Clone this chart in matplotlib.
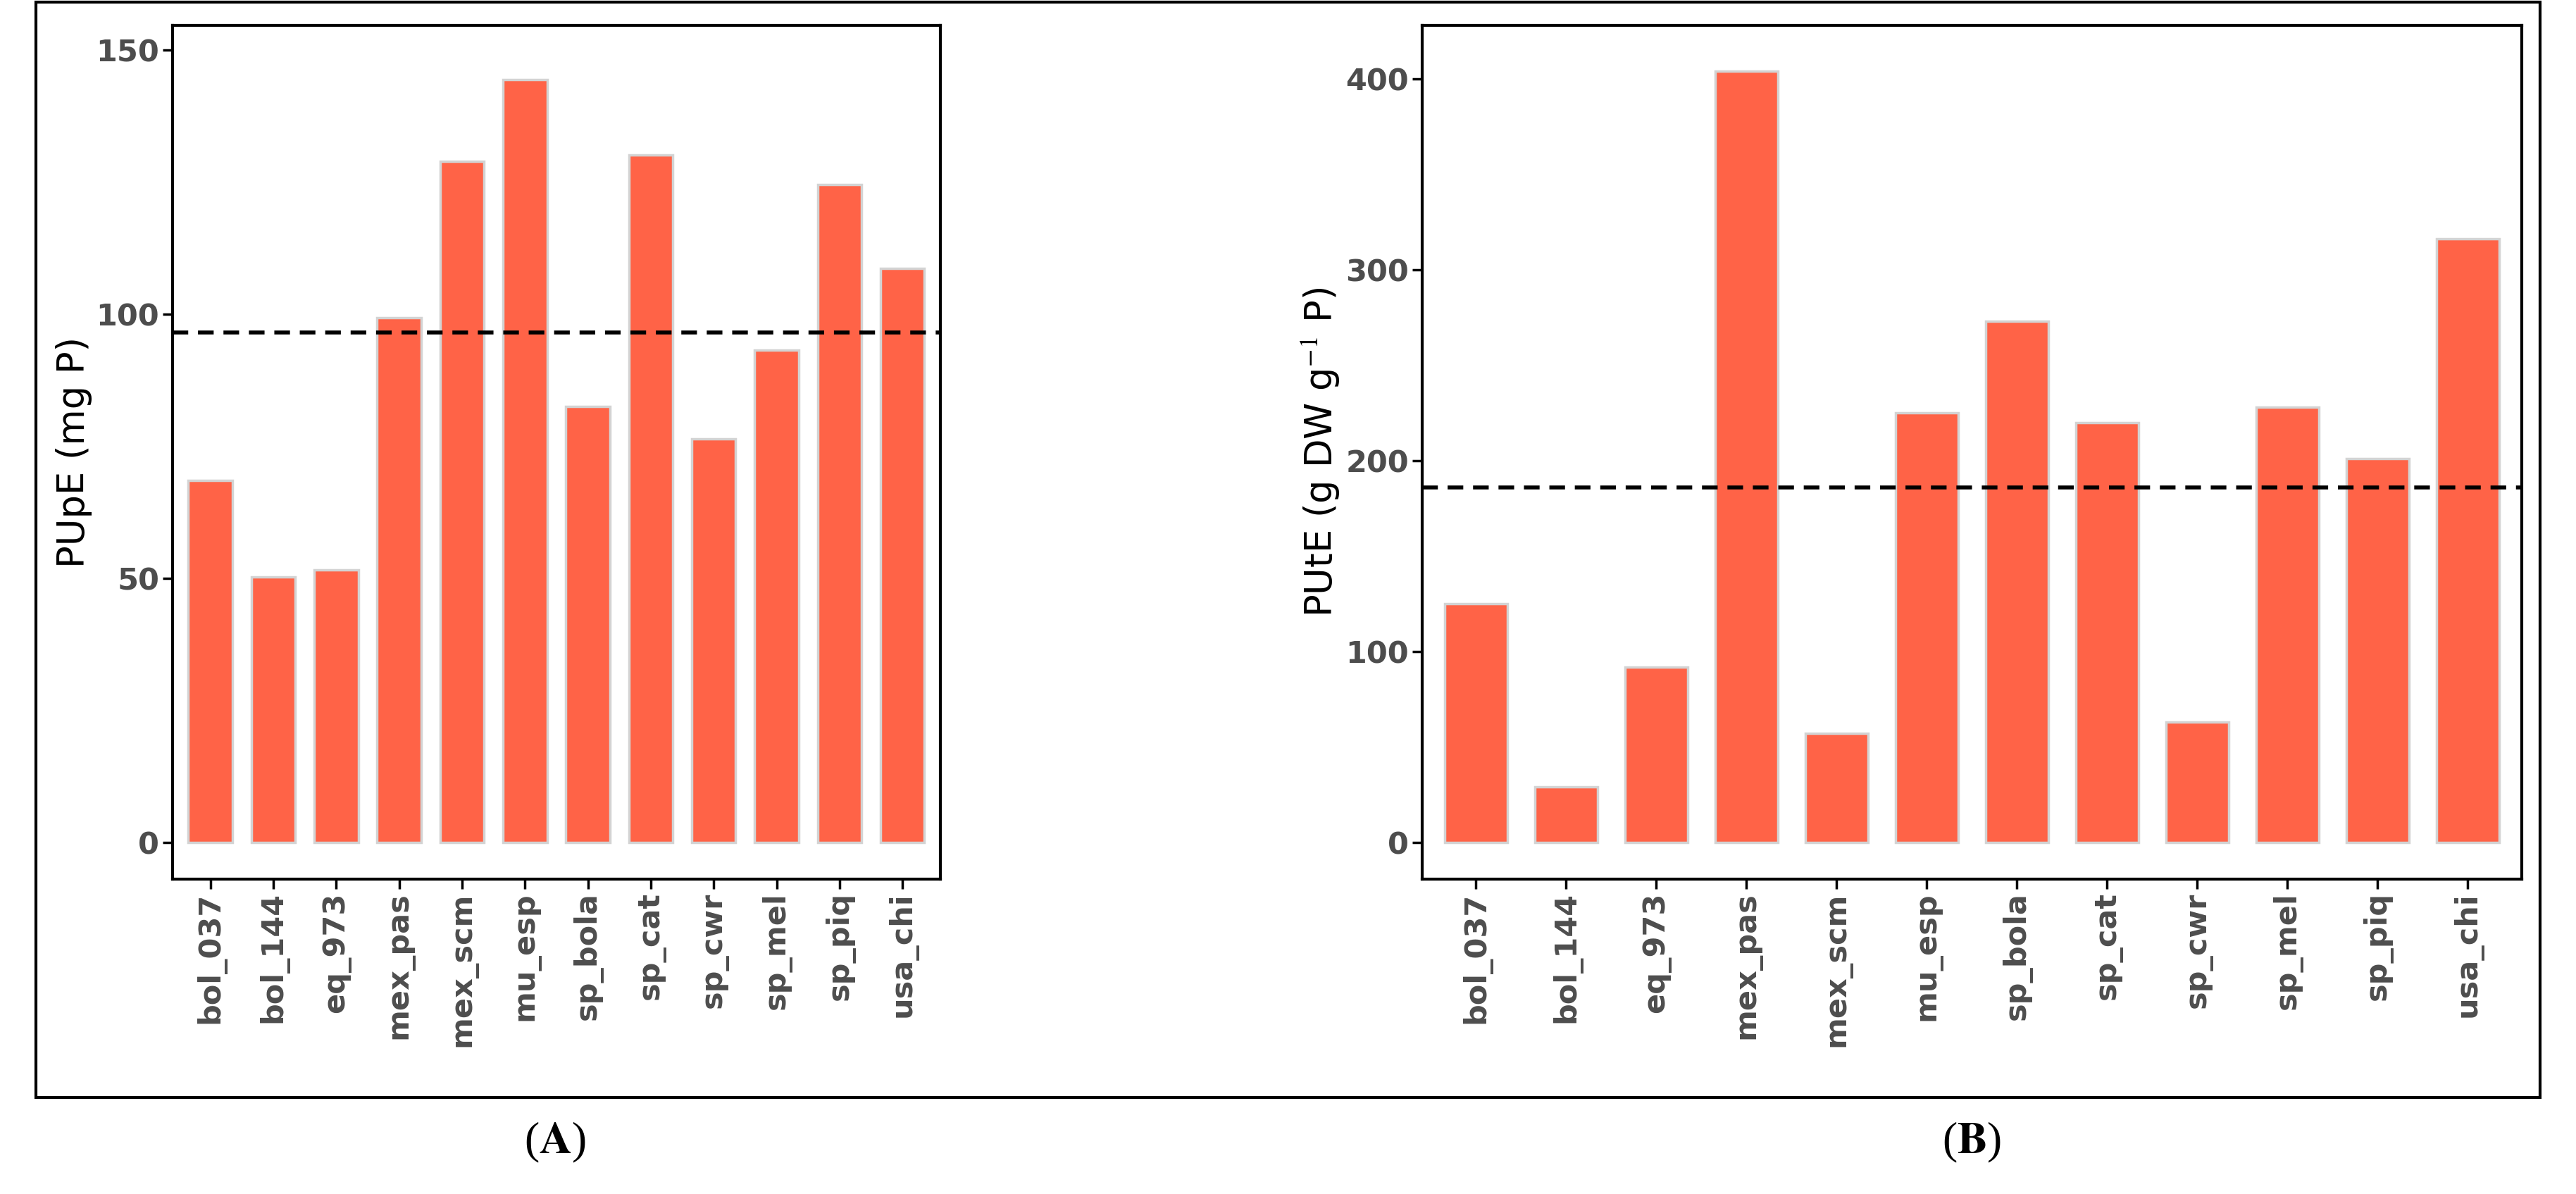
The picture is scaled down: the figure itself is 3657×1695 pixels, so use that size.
import matplotlib
matplotlib.use("Agg")
import matplotlib.pyplot as plt
from matplotlib.patches import Rectangle

genotypes = ["bol_037", "bol_144", "eq_973", "mex_pas", "mex_scm", "mu_esp",
             "sp_bola", "sp_cat", "sp_cwr", "sp_mel", "sp_piq", "usa_chi"]
pupe = [68.6, 50.3, 51.6, 99.4, 128.9, 144.4, 82.6, 130.1, 76.4, 93.2, 124.5, 108.7]
pupe_mean = 96.6
pute = [125, 29, 92, 404, 57, 225, 273, 220, 63, 228, 201, 316]
pute_mean = 186

plt.rcParams["mathtext.fontset"] = "stix"
fig = plt.figure(figsize=(36.57, 16.95), dpi=100)

# outer frame
fig.patches.append(Rectangle((0.014, 0.081), 0.972, 0.917, transform=fig.transFigure,
                             fill=False, edgecolor="black", linewidth=3))

def panel(rect, values, mean, ylabel, ylim, yticks):
    ax = fig.add_axes(rect)
    ax.bar(genotypes, values, width=0.7, color="#FF6347", edgecolor="#D3D3D3", linewidth=2.5)
    ax.axhline(mean, color="black", linestyle=(0, (4, 2.5)), linewidth=4)
    ax.set_xlim(-0.6, len(genotypes) - 0.4)
    ax.set_ylim(*ylim)
    ax.set_yticks(yticks)
    ax.set_ylabel(ylabel, fontsize=38)
    ax.tick_params(axis="x", rotation=90)
    ax.tick_params(labelsize=31, colors="black", width=2.5, length=10)
    for lab in ax.get_xticklabels() + ax.get_yticklabels():
        lab.set_fontweight("bold")
        lab.set_color("#4D4D4D")
    for s in ax.spines.values():
        s.set_linewidth(3)
    return ax

panel([0.067, 0.264, 0.298, 0.715], pupe, pupe_mean, "PUpE (mg P)", (-6.8, 154.7), [0, 50, 100, 150])
panel([0.552, 0.264, 0.427, 0.715], pute, pute_mean, r"PUtE (g DW g$^{-1}$ P)", (-19, 428), [0, 100, 200, 300, 400])

fig.text(0.2155, 0.043, r"($\mathbf{A}$)", fontsize=46, ha="center", va="center", family="Liberation Serif")
fig.text(0.7655, 0.043, r"($\mathbf{B}$)", fontsize=46, ha="center", va="center", family="Liberation Serif")

fig.savefig("out.png", dpi=100)
